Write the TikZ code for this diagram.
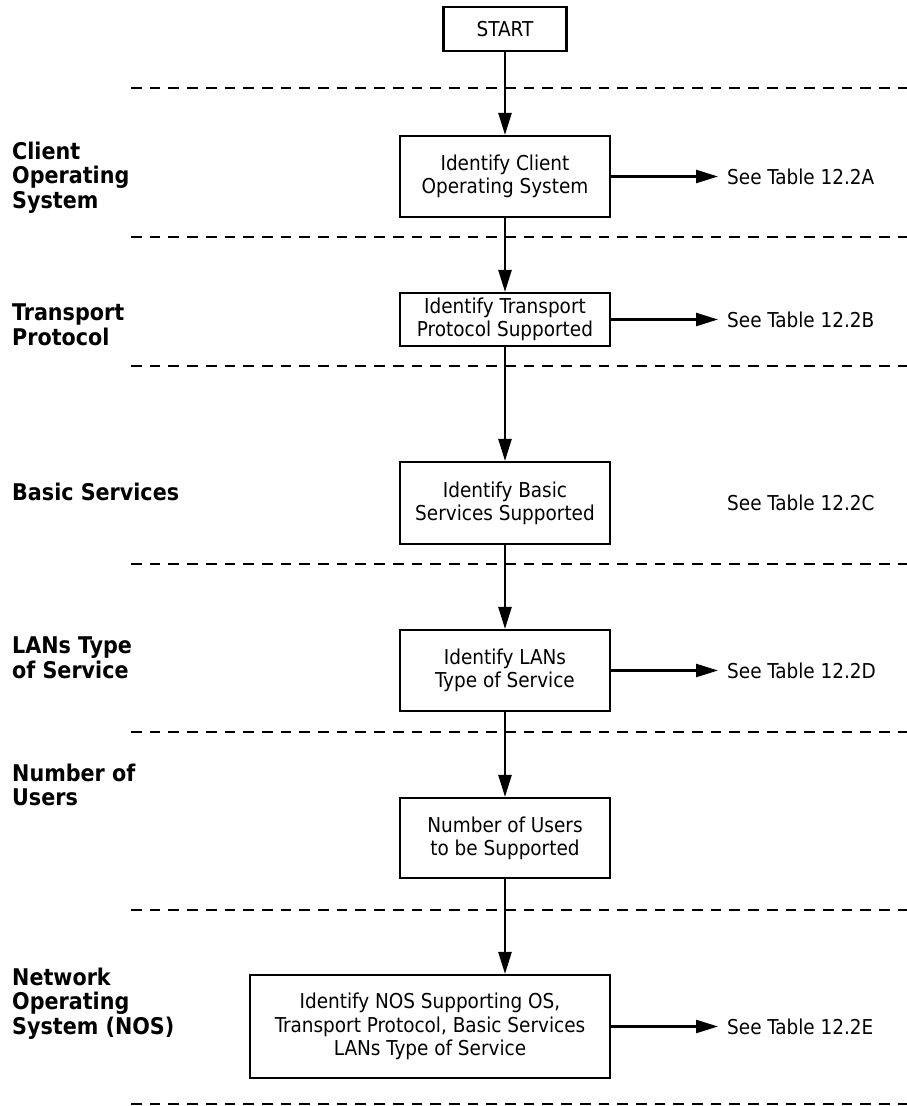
\documentclass[tikz,border=0pt]{standalone}
\usepackage{fontspec}
\setmainfont{DejaVu Sans Condensed}
\usetikzlibrary{arrows.meta}
\begin{document}
\begin{tikzpicture}[x=1pt,y=-1pt,
  box/.style={draw, line width=2.1pt, inner sep=0pt, align=center, font=\fontsize{20.5}{23.3}\selectfont, minimum width=210pt},
  lbl/.style={anchor=west, inner sep=0pt, align=left, font=\fontsize{23}{24.7}\selectfont\bfseries},
  see/.style={anchor=west, inner sep=0pt, font=\fontsize{20.5}{23.3}\selectfont},
  sep/.style={line width=2.3pt, dash pattern=on 10.7pt off 8pt},
  flow/.style={line width=2.4pt, -{Triangle[length=22pt,width=13pt]}}
]
\useasboundingbox (0,0) rectangle (907,1106);

% separators
\foreach \yy in {88,237,366,564,732,910,1104}
  \draw[sep] (131,\yy) -- (907,\yy);

% flow boxes
\node[box, minimum width=123pt, minimum height=44pt] (start) at (505,29) {START};
\node[box, minimum height=81pt] (b1) at (505,176.5) {Identify Client\\Operating System};
\node[box, minimum height=53pt] (b2) at (505,319.5) {Identify Transport\\Protocol Supported};
\node[box, minimum height=82pt] (b3) at (505,503) {Identify Basic\\Services Supported};
\node[box, minimum height=81pt] (b4) at (505,670.5) {Identify LANs\\Type of Service};
\node[box, minimum height=80pt] (b5) at (505,838) {Number of Users\\to be Supported};
\node[box, minimum width=360pt, minimum height=103pt] (b6) at (430,1026.5) {Identify NOS Supporting OS,\\Transport Protocol, Basic Services\\LANs Type of Service};

% see-table texts
\node[see] (s1) at (727,176.5) {See Table 12.2A};
\node[see] (s2) at (727,319.5) {See Table 12.2B};
\node[see] (s3) at (727,503) {See Table 12.2C};
\node[see] (s4) at (727,670.5) {See Table 12.2D};
\node[see] (s6) at (727,1026.5) {See Table 12.2E};

% left labels
\node[lbl] (l1) at (12,177.5) {Client\\Operating\\System};
\node[lbl] (l2) at (12,324.5) {Transport\\Protocol};
\node[lbl] (l3) at (12,492) {Basic Services};
\node[lbl] (l4) at (12,658) {LANs Type\\of Service};
\node[lbl] (l5) at (12,785) {Number of\\Users};
\node[lbl] (l6) at (12,1003.5) {Network\\Operating\\System (NOS)};

% vertical flow
\draw[flow] (start) -- (b1);
\draw[flow] (b1) -- (b2);
\draw[flow] (b2) -- (b3);
\draw[flow] (b3) -- (b4);
\draw[flow] (b4) -- (b5);
\draw[flow] (b5.south) -- (b5.south |- b6.north);

% side arrows
\draw[flow] (b1.east) -- ([xshift=-9pt]s1.west);
\draw[flow] (b2.east) -- ([xshift=-9pt]s2.west);
\draw[flow] (b4.east) -- ([xshift=-9pt]s4.west);
\draw[flow] (b6.east) -- ([xshift=-9pt]s6.west);
\end{tikzpicture}
\end{document}
